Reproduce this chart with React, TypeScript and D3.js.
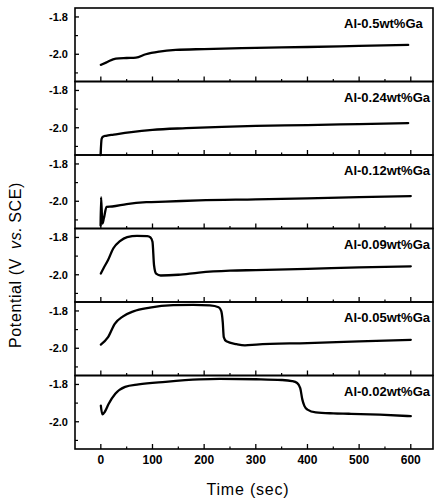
import React from "react";
import * as d3 from "d3";

const labels = ["Al-0.5wt%Ga", "Al-0.24wt%Ga", "Al-0.12wt%Ga", "Al-0.09wt%Ga", "Al-0.05wt%Ga", "Al-0.02wt%Ga"];

const t05 = [0, 10, 29, 50, 68, 87, 113, 145, 200, 300, 400, 500, 595];
const v05 = [-2.057, -2.045, -2.023, -2.02, -2.018, -2.0, -1.986, -1.977, -1.972, -1.966, -1.961, -1.955, -1.95];

const t024 = [-0.5, 1.5, 4, 10, 25, 55, 100, 165, 235, 300, 400, 500, 595];
const v024 = [-2.146, -2.06, -2.048, -2.043, -2.037, -2.025, -2.011, -2.002, -1.995, -1.99, -1.986, -1.98, -1.975];

const t012 = [-0.5, 0.5, 3, 6, 11, 22, 50, 88, 125, 190, 300, 400, 500, 600];
const v012 = [-2.13, -1.978, -2.12, -2.09, -2.03, -2.028, -2.015, -2.005, -2.002, -1.995, -1.99, -1.985, -1.978, -1.972];

const t009 = [0, 5, 14, 24, 37, 51, 70, 90, 96, 100, 103, 107, 116, 150, 190, 250, 300, 400, 500, 600];
const v009 = [-1.993, -1.966, -1.921, -1.859, -1.82, -1.798, -1.791, -1.793, -1.8, -1.823, -1.949, -1.994, -2.004, -2.0, -1.988, -1.978, -1.975, -1.968, -1.96, -1.955];

const t005 = [0, 14, 27, 43, 63, 95, 140, 179, 211, 228, 233, 236, 238, 243, 263, 279, 301, 400, 500, 600];
const v005 = [-1.98, -1.94, -1.869, -1.829, -1.802, -1.782, -1.769, -1.767, -1.77, -1.78, -1.8, -1.86, -1.94, -1.963, -1.978, -1.984, -1.98, -1.972, -1.963, -1.955];

const t002 = [0, 3, 8, 15, 28, 47, 73, 125, 190, 230, 300, 350, 370, 380, 386, 390, 394, 400, 416, 450, 480, 540, 600];
const v002 = [-1.913, -1.96, -1.945, -1.905, -1.85, -1.813, -1.8, -1.786, -1.773, -1.77, -1.772, -1.776, -1.782, -1.792, -1.82, -1.88, -1.915, -1.935, -1.95, -1.955, -1.957, -1.962, -1.97];

const seriesT = [t05, t024, t012, t009, t005, t002];
const seriesV = [v05, v024, v012, v009, v005, v002];

const xMajorTicks = [0, 100, 200, 300, 400, 500, 600];
const xMinorTicks = [50, 150, 250, 350, 450, 550];
const xTickLabels = ["0", "100", "200", "300", "400", "500", "600"];
const yMajorTicks = [-1.8, -2.0];
const yMinorTicks = [-1.9, -2.1];
const yTickLabels = ["-1.8", "-2.0"];

const W = 436;
const H = 501;
const left = 75;
const right = 433;
const top = 8;
const panelH = 73.5;
const font = "'Liberation Sans', Arial, sans-serif";

export default function App() {
  const x = d3.scaleLinear().domain([-50, 643]).range([left, right]);
  const bottom = top + panelH * 6;

  return (
    <svg width={W} height={H} style={{ position: "absolute", left: 0, top: 0, background: "#fff" }} fontFamily={font}>
      {labels.map((lab, i) => {
        const py = top + i * panelH;
        const y = d3.scaleLinear().domain([-2.146, -1.752]).range([py + panelH, py]);
        const pts = seriesT[i].map((t, k) => [t, seriesV[i][k]] as [number, number]);
        const line = d3
          .line<[number, number]>()
          .x((d) => x(d[0]))
          .y((d) => y(d[1]))
          .curve(d3.curveMonotoneX);
        return (
          <g key={lab}>
            <rect x={left} y={py} width={right - left} height={panelH} fill="none" stroke="#000" strokeWidth={1.6} />
            {xMajorTicks.map((t) => (
              <line key={"M" + t} x1={x(t)} x2={x(t)} y1={py + panelH} y2={py + panelH - 5} stroke="#000" strokeWidth={1.3} />
            ))}
            {xMinorTicks.map((t) => (
              <line key={"m" + t} x1={x(t)} x2={x(t)} y1={py + panelH} y2={py + panelH - 2.5} stroke="#000" strokeWidth={1.2} />
            ))}
            {yMajorTicks.map((v) => (
              <line key={"yM" + v} x1={left} x2={left + 4} y1={y(v)} y2={y(v)} stroke="#000" strokeWidth={1.3} />
            ))}
            {yMinorTicks.map((v) => (
              <line key={"ym" + v} x1={left} x2={left + 3} y1={y(v)} y2={y(v)} stroke="#000" strokeWidth={1.2} />
            ))}
            {yMajorTicks.map((v, k) => (
              <text key={"yl" + v} x={left - 7} y={y(v)} dy="0.35em" textAnchor="end" fontSize={11} fontWeight="bold">
                {yTickLabels[k]}
              </text>
            ))}
            <path d={line(pts) || ""} fill="none" stroke="#000" strokeWidth={2.3} strokeLinejoin="round" strokeLinecap="round" />
            <text x={344} y={py + 20} fontSize={13} fontWeight="bold">
              {lab}
            </text>
          </g>
        );
      })}
      {xMajorTicks.map((t, k) => (
        <text key={"xl" + t} x={x(t)} y={bottom + 15} textAnchor="middle" fontSize={12} fontWeight="bold">
          {xTickLabels[k]}
        </text>
      ))}
      <text x={248} y={495} textAnchor="middle" fontSize={16} letterSpacing={0.8}>
        Time (sec)
      </text>
      <text transform="translate(21,265) rotate(-90)" textAnchor="middle" fontSize={16} letterSpacing={0.6}>
        <tspan>Potential (V </tspan>
        <tspan dx={4} fontStyle="italic">vs.</tspan>
        <tspan dx={4}>SCE)</tspan>
      </text>
    </svg>
  );
}
